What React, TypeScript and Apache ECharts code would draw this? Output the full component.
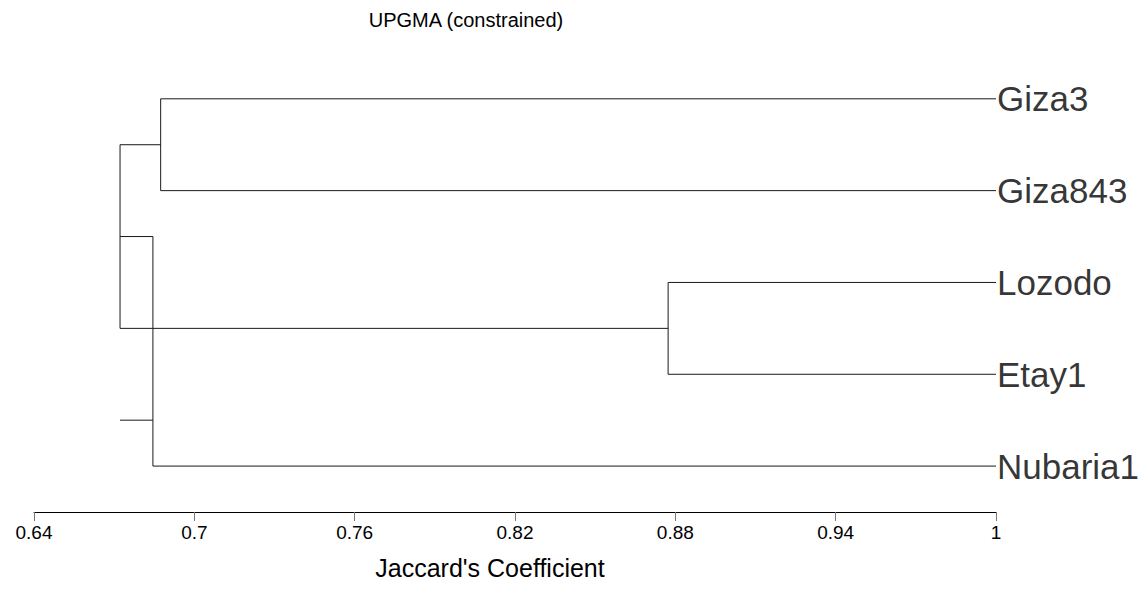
import React, { useEffect, useRef } from "react";
import * as echarts from "echarts";

const leaves = ["Giza3", "Giza843", "Lozodo", "Etay1", "Nubaria1"];
// merges: children ("L#" = leaf, "N#" = earlier merge) and similarity level
const mergeChildren: [string, string][] = [
  ["L0", "L1"],
  ["L2", "L3"],
  ["N0", "N1"],
  ["N2", "L4"],
];
const mergeSim = [0.6874, 0.8773, 0.6722, 0.6845];
const rootStub = { y: 4.5, from: 0.6722, to: 0.6845 };
const tickValues = [0.64, 0.7, 0.76, 0.82, 0.88, 0.94, 1];
const titleText = "UPGMA (constrained)";
const axisTitle = "Jaccard's Coefficient";

const FONT = "'Liberation Sans', Arial, sans-serif";

function buildSegments() {
  const pos: Record<string, { x: number; y: number }> = {};
  leaves.forEach((_, i) => (pos["L" + i] = { x: 1, y: i + 1 }));
  const segs: number[][][] = [];
  mergeChildren.forEach(([a, b], i) => {
    const h = mergeSim[i];
    const pa = pos[a];
    const pb = pos[b];
    segs.push([[h, pa.y], [pa.x, pa.y]]);
    segs.push([[h, pb.y], [pb.x, pb.y]]);
    segs.push([[h, pa.y], [h, pb.y]]);
    pos["N" + i] = { x: h, y: (pa.y + pb.y) / 2 };
  });
  segs.push([[rootStub.from, rootStub.y], [rootStub.to, rootStub.y]]);
  return segs;
}

export default function App() {
  const ref = useRef<HTMLDivElement>(null);
  useEffect(() => {
    if (!ref.current) return;
    const chart = echarts.init(ref.current, null, { renderer: "svg" });
    const segs = buildSegments();
    const series: any[] = segs.map((s) => ({
      type: "line",
      data: s,
      symbol: "none",
      silent: true,
      lineStyle: { color: "#1a1a1a", width: 1 },
    }));
    series.push({
      type: "scatter",
      data: leaves.map((name, i) => [1, i + 1, name]),
      symbolSize: 0,
      silent: true,
      label: {
        show: true,
        position: "right",
        distance: 1,
        formatter: (p: any) => p.data[2],
        color: "#000",
        fontSize: 35,
        fontFamily: FONT,
      },
    });
    chart.setOption({
      animation: false,
      backgroundColor: "#fff",
      grid: { left: 34, right: 145, top: 7, bottom: 96, containLabel: false },
      xAxis: {
        type: "value",
        position: "bottom",
        min: 0.64,
        max: 1,
        splitLine: { show: false },
        axisLine: { show: true, onZero: false, lineStyle: { color: "#000", width: 1 } },
        axisTick: {
          show: true,
          length: 9,
          customValues: tickValues,
          lineStyle: { color: "#777", width: 1 },
        },
        axisLabel: {
          customValues: tickValues,
          color: "#000",
          fontSize: 19,
          fontFamily: FONT,
          margin: 11,
          formatter: (v: number) => String(Math.round(v * 100) / 100),
        },
      },
      yAxis: {
        type: "value",
        inverse: true,
        min: 0,
        max: 5.5,
        show: false,
      },
      graphic: [
        {
          type: "text",
          x: 466,
          y: 20,
          style: {
            text: titleText,
            fontSize: 20,
            fontFamily: FONT,
            fill: "#000",
            textAlign: "center",
            textVerticalAlign: "middle",
          },
        },
        {
          type: "text",
          x: 490,
          y: 568,
          style: {
            text: axisTitle,
            fontSize: 25,
            fontFamily: FONT,
            fill: "#000",
            textAlign: "center",
            textVerticalAlign: "middle",
          },
        },
      ],
      series,
    });
    return () => chart.dispose();
  }, []);
  return (
    <div
      ref={ref}
      style={{ position: "absolute", left: 0, top: 0, width: 1141, height: 608 }}
    />
  );
}
